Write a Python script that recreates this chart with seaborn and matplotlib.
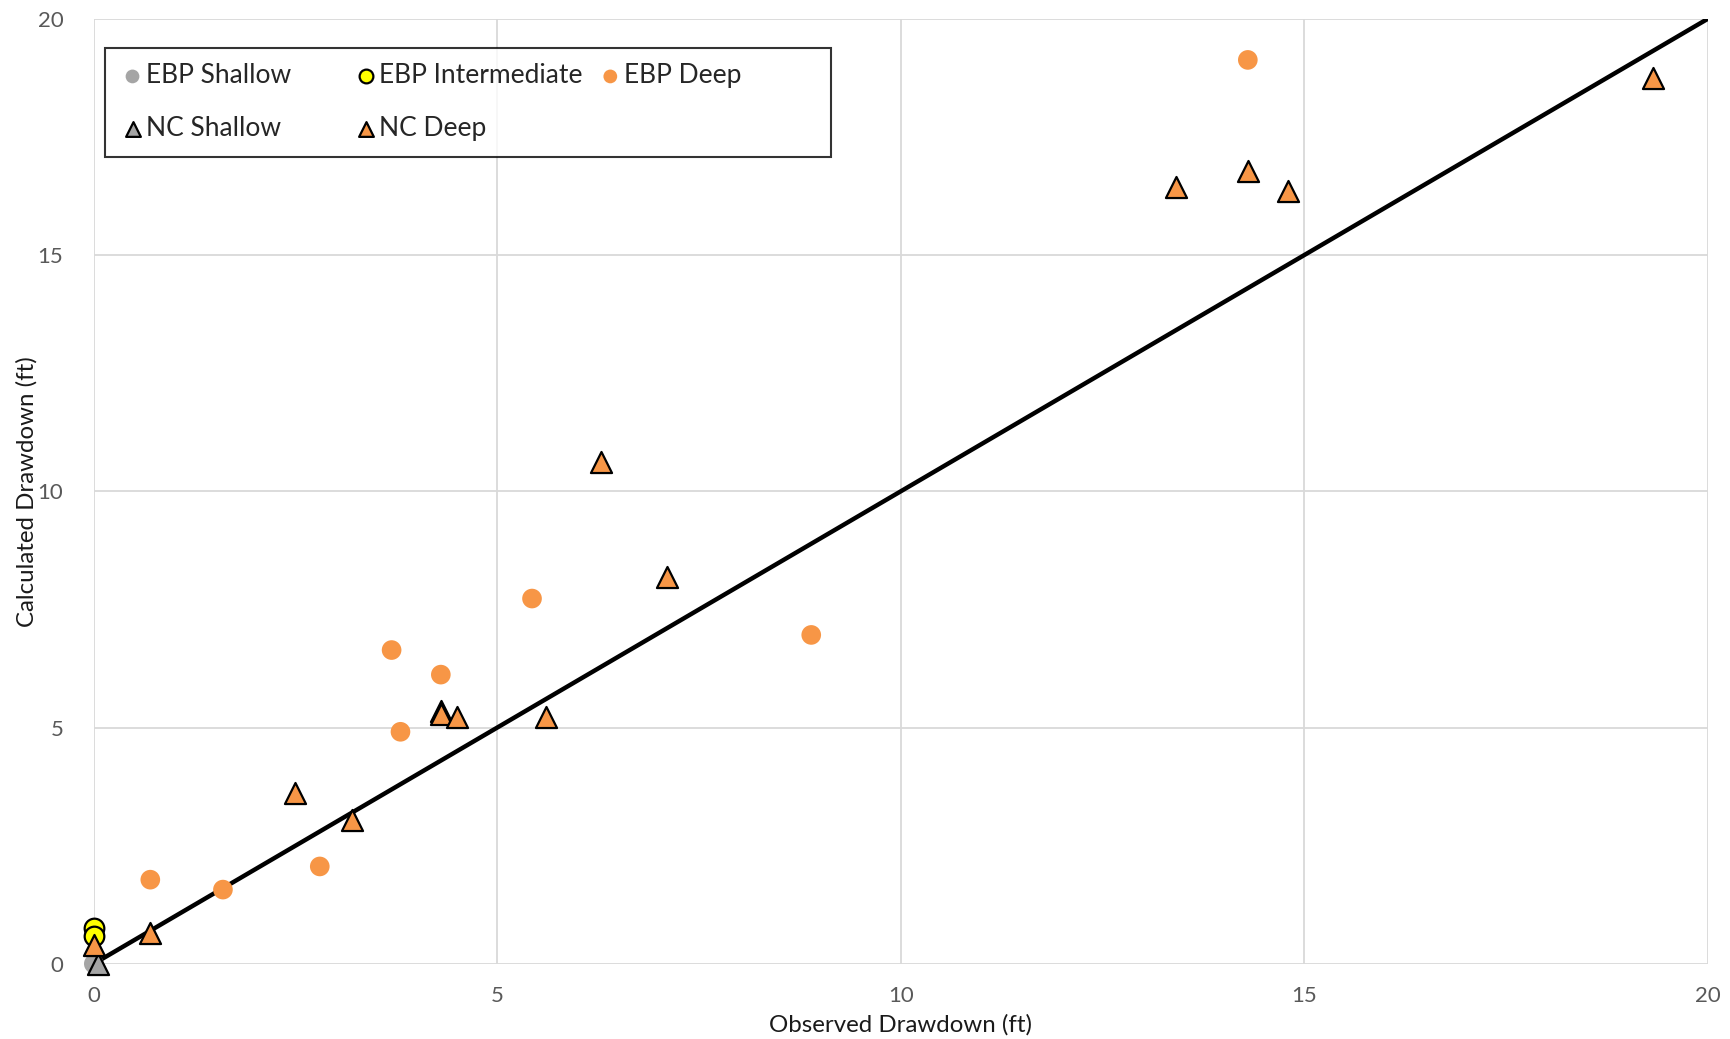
import matplotlib
matplotlib.use("Agg")
import numpy as np
import pandas as pd
import matplotlib.pyplot as plt
import seaborn as sns

# =====================================================
# DATA
# =====================================================

ebp_shallow_obs = [0.0]
ebp_shallow_calc = [0.0]

ebp_int_obs = [0.0, 0.0]
ebp_int_calc = [0.75, 0.58]

ebp_deep_obs = [14.3, 5.43, 8.89, 3.69, 4.30, 3.80, 0.70, 1.60, 2.80]
ebp_deep_calc = [19.13, 7.73, 6.96, 6.64, 6.12, 4.91, 1.78, 1.57, 2.06]

nc_shallow_obs = [0.05]
nc_shallow_calc = [0.0]

nc_deep_obs = [19.32, 14.30, 13.41, 14.80, 6.29, 7.10, 4.30, 4.30, 4.50, 5.60, 2.49, 3.20, 0.70, 0.0]
nc_deep_calc = [18.74, 16.78, 16.43, 16.36, 10.61, 8.18, 5.36, 5.28, 5.23, 5.23, 3.62, 3.04, 0.65, 0.40]

line_x = [0, 20]
line_y = [0, 20]

# =====================================================
# PLOT
# =====================================================

sns.set_style("white")
plt.rcParams['font.family'] = ['Lato', 'DejaVu Sans']

fig = plt.figure(figsize=(17.31, 10.39), dpi=100)
ax = fig.add_axes([0.0542, 0.0724, 0.9324, 0.9095])

ax.plot(line_x, line_y, color='black', linewidth=3.2, zorder=2)

circ = dict(marker='o', s=200, clip_on=False, zorder=3)
tri = dict(marker='^', s=230, clip_on=False, zorder=4, edgecolor='black', linewidth=1.6)

# trailing spaces only widen the legend columns (Excel uses equal-width columns)
sns.scatterplot(x=ebp_shallow_obs, y=ebp_shallow_calc, color='#A5A5A5',
                edgecolor='none', label='EBP Shallow' + ' ' * 7, ax=ax, **circ)
sns.scatterplot(x=ebp_int_obs, y=ebp_int_calc, color='#FFFF00',
                edgecolor='black', linewidth=1.6, label='EBP Intermediate', ax=ax, **circ)
sns.scatterplot(x=ebp_deep_obs, y=ebp_deep_calc, color='#F79646',
                edgecolor='none', label='EBP Deep' + ' ' * 11, ax=ax, **circ)
sns.scatterplot(x=nc_shallow_obs, y=nc_shallow_calc, color='#A5A5A5',
                label='NC Shallow', ax=ax, **tri)
sns.scatterplot(x=nc_deep_obs, y=nc_deep_calc, color='#F79646',
                label='NC Deep', ax=ax, **tri)

ax.set_xlim(0, 20)
ax.set_ylim(0, 20)
ax.set_xticks([0, 5, 10, 15, 20])
ax.set_yticks([0, 5, 10, 15, 20])
ax.grid(True, color='#D9D9D9', linewidth=1.3)
ax.set_axisbelow(True)
for s in ax.spines.values():
    s.set_visible(False)
ax.tick_params(axis='both', length=0, labelsize=16, labelcolor='#595959')
ax.tick_params(axis='x', pad=16)
ax.tick_params(axis='y', pad=22)

ax.set_xlabel("Observed Drawdown (ft)", fontsize=17.3, color='#1A1A1A', labelpad=6)
ax.set_ylabel("Calculated Drawdown (ft)", fontsize=17.3, color='#1A1A1A', labelpad=0)

# legend row-major: reorder for 3 columns
h, l = ax.get_legend_handles_labels()
order = [0, 3, 1, 4, 2]
leg = ax.legend([h[i] for i in order], [l[i] for i in order], ncol=3,
                loc='upper left', bbox_to_anchor=(0.0068, 0.9696),
                borderaxespad=0,
                fontsize=19, frameon=True, fancybox=False, edgecolor='black',
                borderpad=0.6, labelspacing=1.05, columnspacing=0.6,
                handletextpad=0.05, handlelength=0.9, markerscale=0.7)
leg.get_frame().set_linewidth(1.5)

fig.savefig("out.png", dpi=100)
plt.close(fig)
